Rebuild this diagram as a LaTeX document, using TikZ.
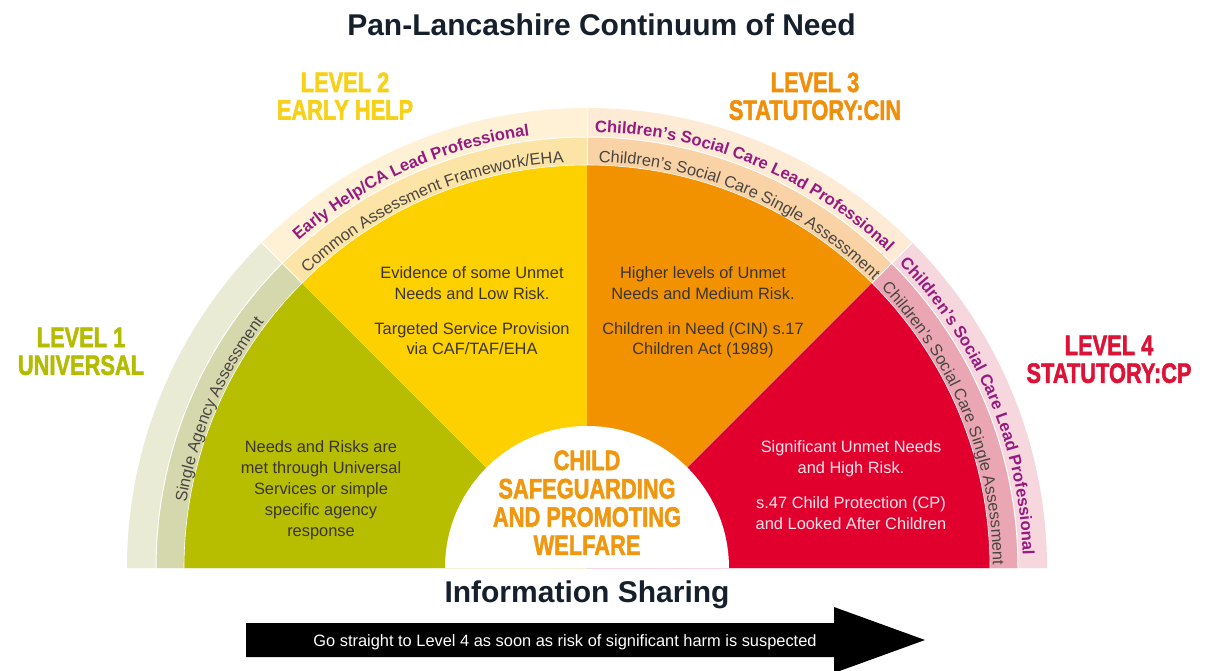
\documentclass[tikz,border=0pt]{standalone}
\usepackage{fontspec}
\setmainfont{Liberation Sans}
\newfontfamily\heavyfont{Liberation Sans Bold}[FakeBold=2]
\usetikzlibrary{decorations.text}

\definecolor{olv}{HTML}{B7BE00}
\definecolor{olvA}{HTML}{D5D8AC}
\definecolor{olvB}{HTML}{E9EBD5}
\definecolor{ylw}{HTML}{FDD000}
\definecolor{ylwA}{HTML}{FCE3A6}
\definecolor{ylwB}{HTML}{FEF1D6}
\definecolor{org}{HTML}{F39200}
\definecolor{orgA}{HTML}{F9D2A6}
\definecolor{orgB}{HTML}{FDEBD6}
\definecolor{rd}{HTML}{E1002D}
\definecolor{rdA}{HTML}{EAA7B3}
\definecolor{rdB}{HTML}{F6D7DD}
\definecolor{purp}{HTML}{951B81}
\definecolor{navy}{HTML}{16202C}
\definecolor{bodytxt}{HTML}{3A3530}
\definecolor{pinktxt}{HTML}{FCE4EA}
\definecolor{bandtxt}{HTML}{4A4540}
\definecolor{lvlone}{HTML}{B3BC00}
\definecolor{lvltwo}{HTML}{F7D117}
\definecolor{lvlthree}{HTML}{F0900A}
\definecolor{lvlfour}{HTML}{DD1236}
\definecolor{ctrtxt}{HTML}{F0960F}

\newcommand\lvlblock[1]{\scalebox{0.78}[1]{\begin{tabular}[t]{@{}c@{}}#1\end{tabular}}}
\newcommand\txtblock[1]{\begin{tabular}[t]{@{}c@{}}#1\end{tabular}}
\newcommand\bandfont{\fontsize{16.4}{18}\selectfont}
\newcommand\bandboldfont{\fontsize{16.6}{18}\selectfont\bfseries}

\begin{document}
\begin{tikzpicture}[x=1pt,y=1pt,
  lvllabel/.style={anchor=base, inner sep=0pt, font=\fontsize{28}{27.5}\selectfont\heavyfont},
  bodyblock/.style={anchor=base, inner sep=0pt, text=bodytxt, font=\fontsize{16.4}{21}\selectfont},
  headline/.style={anchor=base, inner sep=0pt, text=navy, font=\fontsize{30}{32}\selectfont\bfseries},
  sepline/.style={white, line width=1pt},
  bandtext/.style={decorate, decoration={text along path, text align=center, text color=bandtxt, text={|\bandfont|#1}}},
  bandtitle/.style={decorate, decoration={text along path, text align=center, text color=purp, text={|\bandboldfont|#1}}}
]
\useasboundingbox (0,0) rectangle (1205,-671);
\clip (0,0) rectangle (1205,-671);
\fill[white] (0,0) rectangle (1205,-671);
\coordinate (C) at (587,-568);

% sectors: outer band, inner band, main
\foreach \a/\b/\cB/\cA/\cM in {180/135/olvB/olvA/olv, 135/90/ylwB/ylwA/ylw, 90/45/orgB/orgA/org, 45/0/rdB/rdA/rd}{
  \fill[\cB] (C) -- ++(\a:460pt) arc[start angle=\a, end angle=\b, radius=460pt] -- cycle;
  \fill[\cA] (C) -- ++(\a:431pt) arc[start angle=\a, end angle=\b, radius=431pt] -- cycle;
  \fill[\cM] (C) -- ++(\a:403pt) arc[start angle=\a, end angle=\b, radius=403pt] -- cycle;
}
% separators in the bands
\foreach \a in {135,90,45}{
  \draw[sepline] ([shift={(\a:403pt)}]C) -- ([shift={(\a:460pt)}]C);
}
\draw[sepline] ([shift={(180:431pt)}]C) arc[start angle=180, end angle=0, radius=431pt];
\draw[white, line width=0.6pt] ([shift={(180:403pt)}]C) arc[start angle=180, end angle=0, radius=403pt];

% white centre
\fill[white] (C) -- ++(180:142pt) arc[start angle=180, end angle=0, radius=142pt] -- cycle;

% curved band texts
\path[bandtext={Single Agency Assessment}] ([shift={(180:406pt)}]C) arc[start angle=180, end angle=133.4, radius=406pt];
\path[bandtitle={Early Help/CA Lead Professional}] ([shift={(137:436pt)}]C) arc[start angle=137, end angle=92, radius=436pt];
\path[bandtext={Common Assessment Framework/EHA}] ([shift={(136:406pt)}]C) arc[start angle=136, end angle=90.8, radius=406pt];
\path[bandtitle={Children’s Social Care Lead Professional}] ([shift={(90:436pt)}]C) arc[start angle=90, end angle=45.4, radius=436pt];
\path[bandtext={Children’s Social Care Single Assessment}] ([shift={(89.5:406pt)}]C) arc[start angle=89.5, end angle=44, radius=406pt];
\path[bandtitle={Children’s Social Care Lead Professional}] ([shift={(45:436pt)}]C) arc[start angle=45, end angle=1, radius=436pt];
\path[bandtext={Children’s Social Care Single Assessment}] ([shift={(44:406pt)}]C) arc[start angle=44, end angle=0, radius=406pt];

% titles
\node[headline] (title) at (601.5,-36) {Pan-Lancashire Continuum of Need};
\node[headline] (info) at (587,-602) {Information Sharing};

% level labels
\node[lvllabel, text=lvlone] (l1) at (81,-347) {\lvlblock{LEVEL 1\\UNIVERSAL}};
\node[lvllabel, text=lvltwo] (l2) at (345,-92) {\lvlblock{LEVEL 2\\EARLY HELP}};
\node[lvllabel, text=lvlthree] (l3) at (815,-92) {\lvlblock{LEVEL 3\\STATUTORY:CIN}};
\node[lvllabel, text=lvlfour] (l4) at (1109,-355) {\lvlblock{LEVEL 4\\STATUTORY:CP}};

% centre text
\node[lvllabel, text=ctrtxt, font=\fontsize{28}{28.3}\selectfont\heavyfont] (ctr) at (587,-470) {\lvlblock{CHILD\\SAFEGUARDING\\AND PROMOTING\\WELFARE}};

% sector texts
\node[bodyblock] (t1) at (321,-452) {\txtblock{Needs and Risks are\\met through Universal\\Services or simple\\specific agency\\response}};
\node[bodyblock] (t2) at (472,-278) {\txtblock{Evidence of some Unmet\\Needs and Low Risk.\\[14pt]Targeted Service Provision\\via CAF/TAF/EHA}};
\node[bodyblock] (t3) at (703,-278) {\txtblock{Higher levels of Unmet\\Needs and Medium Risk.\\[14pt]Children in Need (CIN) s.17\\Children Act (1989)}};
\node[bodyblock, text=pinktxt] (t4) at (851,-452) {\txtblock{Significant Unmet Needs\\and High Risk.\\[14pt]s.47 Child Protection (CP)\\and Looked After Children}};

% arrow
\fill[black] (246,-623) -- (834,-623) -- (834,-607) -- (925,-640) -- (834,-673) -- (834,-657) -- (246,-657) -- cycle;
\node[anchor=base, inner sep=0pt, text=white, font=\fontsize{16.4}{18}\selectfont] (arrowtxt) at (565,-646) {Go straight to Level 4 as soon as risk of significant harm is suspected};
\end{tikzpicture}
\end{document}
